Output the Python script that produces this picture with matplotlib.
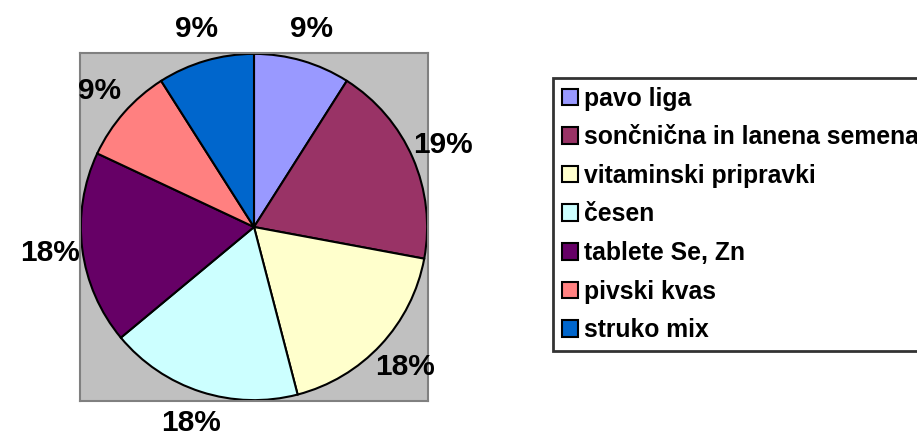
import matplotlib
matplotlib.use("Agg")
import matplotlib.pyplot as plt

labels = ["pavo liga", "sončnična in lanena semena", "vitaminski pripravki",
          "česen", "tablete Se, Zn", "pivski kvas", "struko mix"]
values = [10, 21, 20, 20, 20, 10, 10]
colors = ["#9999FF", "#993366", "#FFFFCC", "#CCFFFF", "#660066", "#FF8080", "#0066CC"]

plt.rcParams['font.family'] = ['Liberation Sans', 'DejaVu Sans']

W, H = 917, 438
fig = plt.figure(figsize=(W / 100, H / 100), dpi=100)

# plot area (grey box) in pixels: x 80..428, y 53..401
ax = fig.add_axes([80 / W, (H - 401) / H, 348 / W, 348 / H])

wedges, texts, autotexts = ax.pie(
    values, colors=colors, startangle=90, counterclock=False,
    autopct='%.0f%%', pctdistance=1.19, radius=0.995, frame=True,
    wedgeprops=dict(edgecolor="black", linewidth=1.5),
    textprops=dict(fontsize=21.5, fontweight="bold", color="black"),
)
for w in wedges:
    w.set_clip_on(False)
for t in autotexts:
    t.set_clip_on(False)
ax.set_facecolor("#C0C0C0")
for s in ax.spines.values():
    s.set_color("#808080")
    s.set_linewidth(1.5)
ax.set_xlim(-1.0, 1.0)
ax.set_ylim(-1.0, 1.0)
ax.set_xticks([])
ax.set_yticks([])

leg = fig.legend(wedges, labels, loc="upper left",
                 bbox_to_anchor=(553 / W, 0.0, 0.5, (H - 78) / H),
                 mode="expand", borderaxespad=0,
                 prop=dict(size=17.8, weight="bold"),
                 handlelength=0.65, handleheight=0.65, handletextpad=0.25,
                 labelspacing=0.59, borderpad=0.35,
                 fancybox=False, frameon=True, edgecolor="black")
leg.get_frame().set_linewidth(2)
for h in leg.legend_handles:
    h.set_edgecolor("black")
    h.set_linewidth(1.5)

fig.savefig("out.png", dpi=100)
